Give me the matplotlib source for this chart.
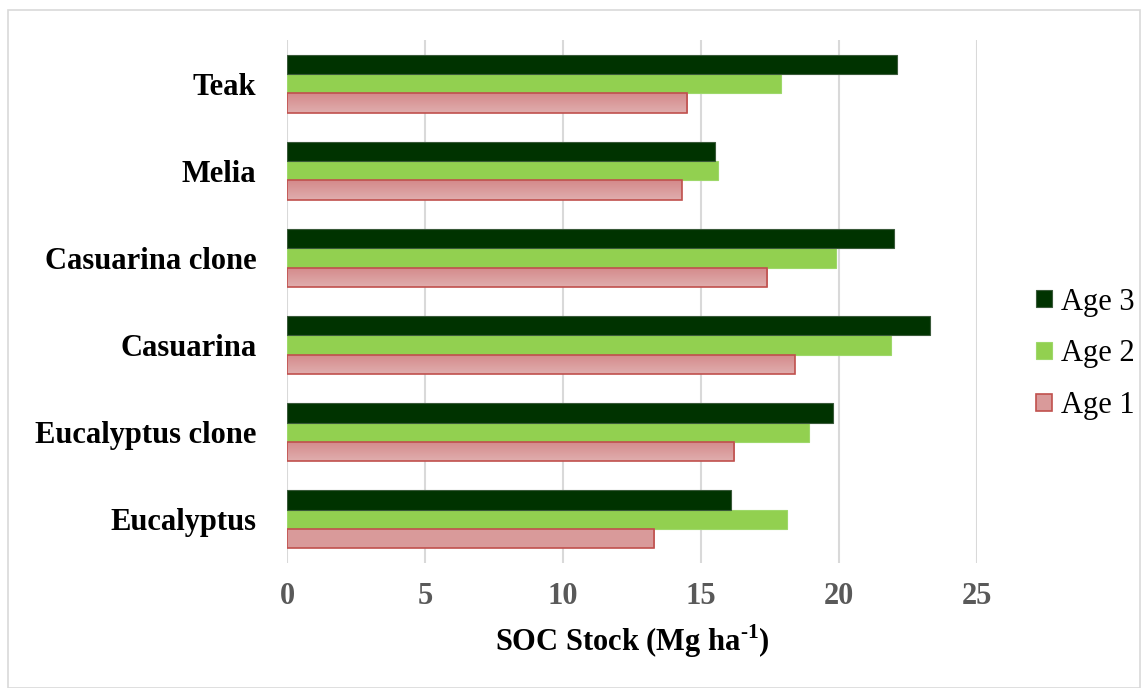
import matplotlib.pyplot as plt
import numpy as np
from matplotlib.colors import LinearSegmentedColormap
from matplotlib.patches import Rectangle

plt.rcParams["font.family"] = "Liberation Serif"
plt.rcParams["mathtext.fontset"] = "custom"
plt.rcParams["mathtext.rm"] = "Liberation Serif:bold"
plt.rcParams["mathtext.bf"] = "Liberation Serif:bold"

# categories listed bottom -> top as they appear on the chart
species = ["Eucalyptus", "Eucalyptus clone", "Casuarina", "Casuarina clone", "Melia", "Teak"]
age1 = [13.3, 16.2, 18.4, 17.4, 14.3, 14.5]
age2 = [18.1, 18.9, 21.9, 19.9, 15.6, 17.9]
age3 = [16.1, 19.8, 23.3, 22.0, 15.5, 22.1]
xticks = [0, 5, 10, 15, 20, 25]

fig = plt.figure(figsize=(11.47, 6.88), dpi=100)
ax = fig.add_axes([287 / 1147, 1 - 563 / 688, 690 / 1147, 523 / 688])

# outer chart border
fig.patches.append(Rectangle((8 / 1147, 0), 1132 / 1147, 678 / 688, transform=fig.transFigure,
                             fill=False, edgecolor="#d9d9d9", linewidth=1.2))

y = np.arange(len(species))
h = 2 / 9  # gap width 50%
b1 = ax.barh(y - h, age1, height=h, color="none", edgecolor="#c0504d", linewidth=1.2, label="Age 1", zorder=4)
ax.barh(y, age2, height=h, color="#92d050", edgecolor="#9ed86a", linewidth=0.8, label="Age 2", zorder=3)
ax.barh(y + h, age3, height=h, color="#003300", edgecolor="#3a5a3a", linewidth=0.8, label="Age 3", zorder=3)

# vertical pink gradient inside the Age 1 bars
grad = np.linspace(0, 1, 64).reshape(-1, 1)
pink = LinearSegmentedColormap.from_list("pink", ["#e0aeae", "#d4898a"])
for bar in b1:
    x0, y0 = bar.get_x(), bar.get_y()
    w, hh = bar.get_width(), bar.get_height()
    im = ax.imshow(grad, cmap=pink, aspect="auto", extent=(x0, x0 + w, y0 + hh, y0),
                   origin="upper", zorder=3.5)
    im.set_clip_path(bar)
b1.patches[0].set_facecolor("#d99a9a")  # legend proxy colour comes from first patch

ax.set_xlim(0, 25)
ax.set_ylim(-0.5, len(species) - 0.5)
ax.set_xticks(xticks)
ax.set_xticklabels([str(t) for t in xticks], fontsize=22, fontweight="bold", color="#595959")
ax.set_yticks(y)
ax.set_yticklabels(species, fontsize=22, fontweight="bold", color="black")
ax.tick_params(axis="both", length=0)
ax.tick_params(axis="y", pad=22)
ax.tick_params(axis="x", pad=14)
ax.grid(axis="x", color="#d9d9d9", linewidth=1.5, zorder=0)
for s in ax.spines.values():
    s.set_visible(False)

ax.set_xlabel(r"SOC Stock (Mg ha$^{\text{-}1}$)", fontsize=22, fontweight="bold", labelpad=8)

handles, labels = ax.get_legend_handles_labels()
fig.legend(handles[::-1], labels[::-1], loc="center left", bbox_to_anchor=(1021 / 1147, 1 - 354 / 688),
           frameon=False, fontsize=22, handlelength=0.5, handleheight=0.5,
           handletextpad=0.3, labelspacing=0.75, borderpad=0)

fig.savefig("out.png", dpi=100)
